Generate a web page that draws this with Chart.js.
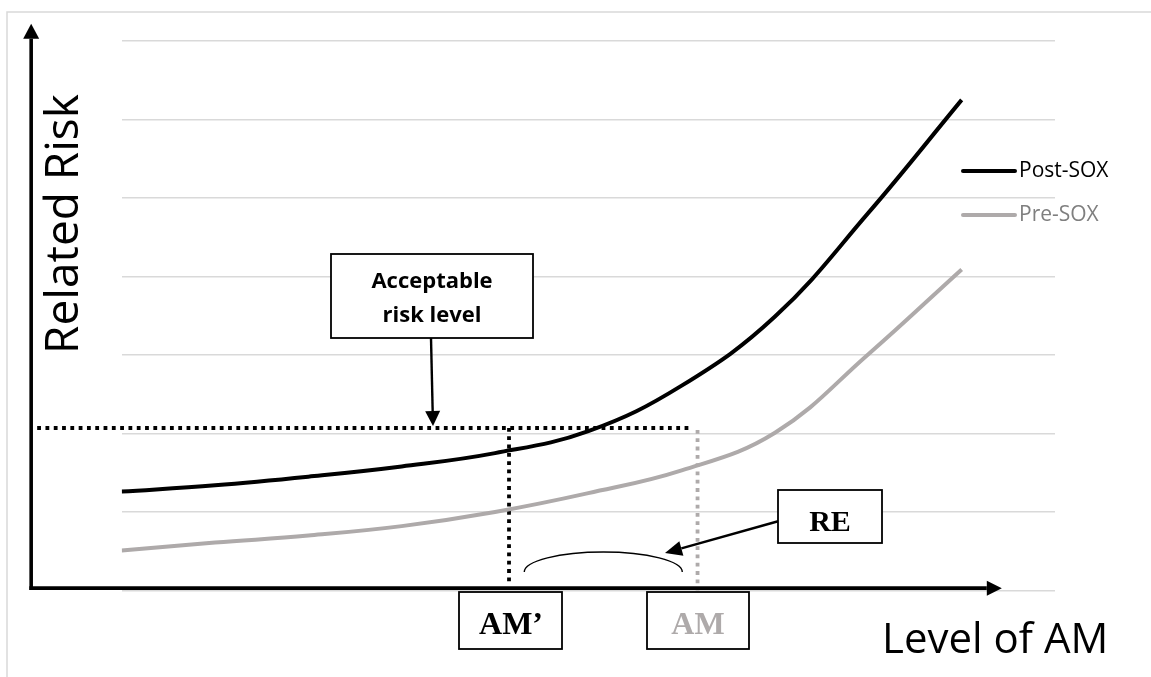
<!DOCTYPE html>
<html>
<head>
<meta charset="utf-8">
<script src="https://cdn.jsdelivr.net/npm/chart.js@4.4.1/dist/chart.umd.min.js"></script>
<style>
  html, body { margin: 0; padding: 0; background: #fff; }
  #wrap { position: relative; width: 1151px; height: 677px; }
</style>
</head>
<body>
<div id="wrap"><canvas id="riskChart"></canvas></div>
<script>
// level of AM (x) and related risk (y)
const levelOfAm = [0, 1, 2, 3, 4, 5, 6, 7, 8, 9];
const postSox   = [1.26, 1.34, 1.45, 1.58, 1.75, 2.03, 2.61, 3.49, 4.81, 6.25];
const preSox    = [0.51, 0.61, 0.70, 0.82, 1.00, 1.24, 1.53, 2.01, 3.01, 4.09];
const seriesNames = ['Post-SOX', 'Pre-SOX'];

// reference levels
const acceptableRisk = 2.07;
const amPrime = 4.15;
const amPre = 6.17;

const BLACK = '#000000';
const GREY = '#aeaaaa';

function arrow(ctx, x1, y1, x2, y2, len, half, lw) {
    const a = Math.atan2(y2 - y1, x2 - x1);
    const bx = x2 - len * Math.cos(a), by = y2 - len * Math.sin(a);
    ctx.save();
    ctx.strokeStyle = BLACK; ctx.fillStyle = BLACK; ctx.lineWidth = lw;
    ctx.beginPath(); ctx.moveTo(x1, y1); ctx.lineTo(bx, by); ctx.stroke();
    ctx.beginPath();
    ctx.moveTo(x2, y2);
    ctx.lineTo(bx + half * Math.sin(a), by - half * Math.cos(a));
    ctx.lineTo(bx - half * Math.sin(a), by + half * Math.cos(a));
    ctx.closePath(); ctx.fill();
    ctx.restore();
}

function box(ctx, x, y, w, h) {
    ctx.save();
    ctx.strokeStyle = '#000'; ctx.lineWidth = 1.8;
    ctx.fillStyle = '#fff';
    ctx.fillRect(x, y, w, h);
    ctx.strokeRect(x, y, w, h);
    ctx.restore();
}

const decor = {
    id: 'decor',
    beforeDatasetsDraw(chart) {
        const ctx = chart.ctx;
        const xs = chart.scales.x, ys = chart.scales.y;
        const axisX = xs.getPixelForValue(-0.97);
        const yLevel = ys.getPixelForValue(acceptableRisk);

        ctx.save();
        ctx.lineWidth = 3.8;
        ctx.setLineDash([3.8, 4.5]);
        // acceptable risk level
        ctx.strokeStyle = BLACK;
        ctx.beginPath();
        ctx.moveTo(axisX + 6, yLevel);
        ctx.lineTo(xs.getPixelForValue(amPre) - 8, yLevel);
        ctx.stroke();
        // AM'
        ctx.beginPath();
        ctx.moveTo(xs.getPixelForValue(amPrime), yLevel);
        ctx.lineTo(xs.getPixelForValue(amPrime), ys.getPixelForValue(0.1));
        ctx.stroke();
        // AM
        ctx.strokeStyle = GREY;
        ctx.beginPath();
        ctx.moveTo(xs.getPixelForValue(amPre), yLevel + 2);
        ctx.lineTo(xs.getPixelForValue(amPre), ys.getPixelForValue(0));
        ctx.stroke();
        ctx.restore();
    },
    afterDatasetsDraw(chart) {
        const ctx = chart.ctx;
        const xs = chart.scales.x, ys = chart.scales.y;
        const axisX = xs.getPixelForValue(-0.97);
        const axisY = ys.getPixelForValue(0.03);

        // frame
        ctx.save();
        ctx.strokeStyle = '#d9d9d9'; ctx.lineWidth = 1.5;
        ctx.beginPath();
        ctx.moveTo(7, 677); ctx.lineTo(7, 12); ctx.lineTo(1151, 12);
        ctx.stroke();
        ctx.restore();

        // axes with arrows
        arrow(ctx, axisX, axisY + 1.8, axisX, ys.getPixelForValue(7.22), 15, 8, 3.6);
        arrow(ctx, axisX - 1.8, axisY, xs.getPixelForValue(9.43), axisY, 15, 7.5, 3.6);

        // RE arc
        const cx = (xs.getPixelForValue(amPrime) + xs.getPixelForValue(amPre)) / 2;
        ctx.save();
        ctx.strokeStyle = BLACK; ctx.lineWidth = 1.4;
        ctx.beginPath();
        ctx.ellipse(cx, 572, 79, 20, 0, Math.PI, 2 * Math.PI);
        ctx.stroke();
        ctx.restore();

        // callout arrows
        arrow(ctx, 431, 338, 433, 426, 15, 7.5, 2.4);
        arrow(ctx, 779, 521, 665, 553, 17, 7.5, 2.4);

        // boxes
        box(ctx, 331, 254, 202, 84);
        box(ctx, 778, 490, 104, 53);
        box(ctx, 459, 592, 103, 57);
        box(ctx, 647, 592, 102, 57);

        ctx.save();
        ctx.textAlign = 'center';
        ctx.textBaseline = 'alphabetic';
        ctx.fillStyle = '#000';
        ctx.font = 'bold 22px "Open Sans"';
        ctx.fillText('Acceptable', 432, 288);
        ctx.fillText('risk level', 432, 322);
        ctx.font = 'bold 30px "Liberation Serif"';
        ctx.fillText('RE', 830, 531);
        ctx.font = 'bold 32px "Liberation Serif"';
        ctx.fillText('AM\u2019', 511, 634);
        ctx.fillStyle = GREY;
        ctx.fillText('AM', 698, 634);

        // axis titles
        ctx.fillStyle = '#000';
        ctx.font = '42px "Open Sans"';
        ctx.textAlign = 'left';
        ctx.fillText('Level of AM', 882, 653);
        ctx.save();
        ctx.translate(78, 224);
        ctx.rotate(-Math.PI / 2);
        ctx.textAlign = 'center';
        ctx.font = '46px "Open Sans"';
        ctx.fillText('Related Risk', 0, 0);
        ctx.restore();

        // legend
        ctx.lineWidth = 4;
        ctx.lineCap = 'round';
        ctx.strokeStyle = BLACK;
        ctx.beginPath(); ctx.moveTo(963, 171); ctx.lineTo(1015, 171); ctx.stroke();
        ctx.strokeStyle = GREY;
        ctx.beginPath(); ctx.moveTo(963, 215); ctx.lineTo(1015, 215); ctx.stroke();
        ctx.font = '21px "Open Sans"';
        ctx.textBaseline = 'middle';
        ctx.fillStyle = '#000';
        ctx.fillText(seriesNames[0], 1019, 171);
        ctx.fillStyle = '#7f7f7f';
        ctx.fillText(seriesNames[1], 1019, 215);
        ctx.restore();
    }
};

new Chart(document.getElementById('riskChart'), {
    type: 'line',
    data: {
        datasets: [
            {
                label: seriesNames[0],
                data: levelOfAm.map((x, i) => ({ x: x, y: postSox[i] })),
                borderColor: BLACK,
                borderWidth: 4,
                pointRadius: 0,
                tension: 0.4,
                fill: false
            },
            {
                label: seriesNames[1],
                data: levelOfAm.map((x, i) => ({ x: x, y: preSox[i] })),
                borderColor: GREY,
                borderWidth: 4,
                pointRadius: 0,
                tension: 0.4,
                fill: false
            }
        ]
    },
    options: {
        responsive: true,
        maintainAspectRatio: false,
        animation: false,
        layout: { padding: { left: 121.7, top: 41, right: 96, bottom: 86.5 } },
        plugins: {
            legend: { display: false },
            tooltip: { enabled: false }
        },
        scales: {
            x: {
                type: 'linear',
                min: 0, max: 10,
                grid: { display: false, drawTicks: false },
                border: { display: false },
                ticks: { display: false }
            },
            y: {
                min: 0, max: 7,
                grid: { color: '#d9d9d9', lineWidth: 1.5, drawTicks: false },
                border: { display: false },
                ticks: { display: false, stepSize: 1 }
            }
        }
    },
    plugins: [decor]
});
</script>
</body>
</html>
